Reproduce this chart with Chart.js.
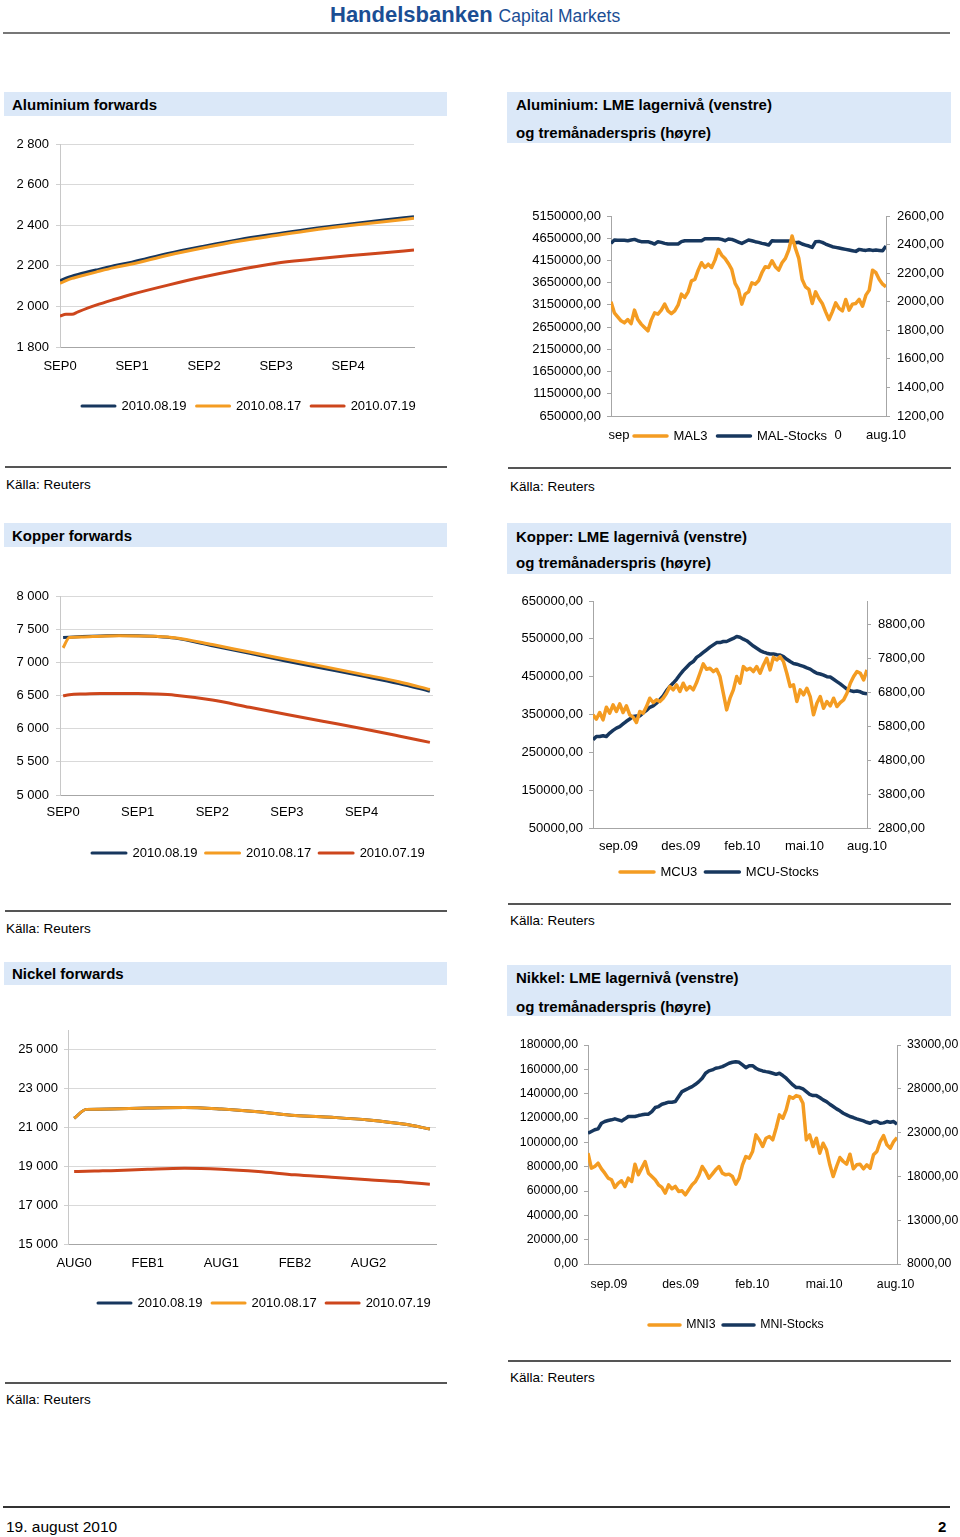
<!DOCTYPE html>
<html>
<head>
<meta charset="utf-8">
<script src="https://cdn.jsdelivr.net/npm/chart.js@4.4.1/dist/chart.umd.min.js"></script>
<style>
  body { margin: 0; background: #fff; font-family: "Liberation Sans", Arial, sans-serif; color: #000; }
  #page { position: relative; width: 960px; height: 1537px; overflow: hidden; }
  .abs { position: absolute; white-space: nowrap; }
  .bar { position: absolute; background: #dbe8f8; }
  .ttl { position: absolute; white-space: nowrap; font-weight: bold; font-size: 15px; line-height: 18px; }
  .rule { position: absolute; height: 2px; background: #555; }
  .src { position: absolute; white-space: nowrap; font-size: 13.5px; line-height: 16px; }
  canvas { position: absolute; }
</style>
</head>
<body>
<div id="page">
  <div class="abs" style="left:330px;top:2px;line-height:26px;color:#1b4e94">
    <span style="font-weight:bold;font-size:22px">Handelsbanken</span><span style="font-size:17.5px;margin-left:6px">Capital Markets</span>
  </div>
  <div class="rule" style="left:3px;top:32px;width:947px;background:#777"></div>

  <!-- row 1 -->
  <div class="bar" style="left:4px;top:92px;width:443px;height:24px"></div>
  <div class="ttl" style="left:12px;top:96px">Aluminium forwards</div>
  <div class="bar" style="left:507px;top:92px;width:444px;height:51px"></div>
  <div class="ttl" style="left:516px;top:96px">Aluminium: LME lagernivå (venstre)</div>
  <div class="ttl" style="left:516px;top:124px">og tremånaderspris (høyre)</div>
  <div class="rule" style="left:5px;top:466px;width:442px"></div>
  <div class="src" style="left:6px;top:477px">Källa: Reuters</div>
  <div class="rule" style="left:508px;top:467px;width:443px"></div>
  <div class="src" style="left:510px;top:479px">Källa: Reuters</div>

  <!-- row 2 -->
  <div class="bar" style="left:4px;top:523px;width:443px;height:24px"></div>
  <div class="ttl" style="left:12px;top:527px">Kopper forwards</div>
  <div class="bar" style="left:507px;top:523px;width:444px;height:51px"></div>
  <div class="ttl" style="left:516px;top:528px">Kopper: LME lagernivå (venstre)</div>
  <div class="ttl" style="left:516px;top:554px">og tremånaderspris (høyre)</div>
  <div class="rule" style="left:5px;top:910px;width:442px"></div>
  <div class="src" style="left:6px;top:921px">Källa: Reuters</div>
  <div class="rule" style="left:508px;top:903px;width:443px"></div>
  <div class="src" style="left:510px;top:913px">Källa: Reuters</div>

  <!-- row 3 -->
  <div class="bar" style="left:4px;top:962px;width:443px;height:23px"></div>
  <div class="ttl" style="left:12px;top:965px">Nickel forwards</div>
  <div class="bar" style="left:507px;top:965px;width:444px;height:51px"></div>
  <div class="ttl" style="left:516px;top:969px">Nikkel: LME lagernivå (venstre)</div>
  <div class="ttl" style="left:516px;top:998px">og tremånaderspris (høyre)</div>
  <div class="rule" style="left:5px;top:1382px;width:442px"></div>
  <div class="src" style="left:6px;top:1392px">Källa: Reuters</div>
  <div class="rule" style="left:508px;top:1360px;width:443px"></div>
  <div class="src" style="left:510px;top:1370px">Källa: Reuters</div>

  <!-- footer -->
  <div class="rule" style="left:3px;top:1506px;width:947px;background:#333"></div>
  <div class="abs" style="left:6px;top:1518px;font-size:15.5px;line-height:18px">19. august 2010</div>
  <div class="abs" style="left:938px;top:1518px;font-size:15px;line-height:18px;font-weight:bold">2</div>

  <canvas id="c1" width="450" height="300" style="left:0;top:120px"></canvas>
  <canvas id="c2" width="455" height="300" style="left:505px;top:195px"></canvas>
  <canvas id="c3" width="450" height="320" style="left:0;top:560px"></canvas>
  <canvas id="c4" width="455" height="320" style="left:505px;top:580px"></canvas>
  <canvas id="c5" width="450" height="320" style="left:0;top:1000px"></canvas>
  <canvas id="c6" width="455" height="320" style="left:505px;top:1020px"></canvas>
</div>

<script>
// ---- data ----
const fwdLabels = ['2010.08.19', '2010.08.17', '2010.07.19'];

// aluminium forwards (months from SEP0)
const alFwdMonths = [0, 1, 2, 3, 6, 9, 12, 18, 24, 30, 36, 42, 48, 54, 59];
const alFwd0819 = [2126, 2139, 2149, 2157, 2179, 2200, 2218, 2261, 2297, 2330, 2357, 2383, 2405, 2426, 2442];
const alFwd0817 = [2113, 2127, 2138, 2146, 2169, 2191, 2209, 2252, 2289, 2322, 2349, 2375, 2397, 2417, 2434];
const alFwd0719 = [1952, 1961, 1961, 1973, 2006, 2034, 2060, 2105, 2146, 2182, 2213, 2232, 2249, 2264, 2278];
const alFwdTickPos = [0, 12, 24, 36, 48];
const alFwdTickLabels = ['SEP0', 'SEP1', 'SEP2', 'SEP3', 'SEP4'];
const alFwdYTicks = [1800, 2000, 2200, 2400, 2600, 2800];

// copper forwards
const cuFwdMonths = [0, 1, 3, 6, 9, 12, 15, 18, 24, 30, 36, 42, 48, 54, 59];
const cuFwd0819 = [7373, 7378, 7388, 7398, 7403, 7400, 7390, 7365, 7250, 7135, 7017, 6906, 6796, 6681, 6565];
const cuFwd0817 = [7218, 7375, 7383, 7395, 7400, 7398, 7392, 7372, 7268, 7155, 7045, 6935, 6822, 6707, 6590];
const cuFwd0719 = [6495, 6510, 6522, 6530, 6532, 6530, 6522, 6505, 6432, 6322, 6214, 6108, 6003, 5890, 5793];
const cuFwdTickPos = [0, 12, 24, 36, 48];
const cuFwdTickLabels = ['SEP0', 'SEP1', 'SEP2', 'SEP3', 'SEP4'];
const cuFwdYTicks = [5000, 5500, 6000, 6500, 7000, 7500, 8000];

// nickel forwards (months from AUG0)
const niFwdMonths = [0, 1, 2, 3, 6, 9, 12, 15, 18, 21, 24, 27, 29];
const niFwd0819 = [21460, 21920, 21930, 21940, 21990, 22020, 21940, 21800, 21610, 21510, 21375, 21150, 20913];
const niFwd0817 = [21460, 21920, 21930, 21940, 21990, 22020, 21940, 21800, 21610, 21510, 21375, 21150, 20913];
const niFwd0719 = [18726, 18740, 18755, 18770, 18845, 18897, 18845, 18726, 18555, 18435, 18300, 18180, 18076];
const niFwdTickPos = [0, 6, 12, 18, 24];
const niFwdTickLabels = ['AUG0', 'FEB1', 'AUG1', 'FEB2', 'AUG2'];
const niFwdYTicks = [15000, 17000, 19000, 21000, 23000, 25000];

// aluminium: three-month price (right) and LME stocks (left)
const mal3 = [1999, 1922, 1894, 1866, 1852, 1875, 1847, 1941, 1875, 1843,
  1819, 1796, 1871, 1922, 1913, 1941, 1983, 1936, 1917, 1936,
  1976, 2053, 2030, 2069, 2146, 2156, 2221, 2273, 2240, 2263,
  2240, 2291, 2366, 2326, 2303, 2268, 2226, 2128, 2086, 1983,
  2053, 2069, 2132, 2123, 2146, 2203, 2245, 2240, 2287, 2245,
  2221, 2273, 2303, 2362, 2460, 2373, 2303, 2156, 2104, 2086,
  1988, 2069, 2023, 1988, 1929, 1875, 1929, 1992, 1953, 1936,
  2016, 1941, 1983, 1988, 2016, 1969, 2046, 2081, 2221, 2203,
  2156, 2123, 2104];
const malStocks = [4534000, 4609000, 4602000, 4602000, 4602000, 4594000, 4609000, 4624000, 4594000, 4572000,
  4572000, 4572000, 4549000, 4519000, 4572000, 4557000, 4534000, 4519000, 4519000, 4519000,
  4519000, 4572000, 4594000, 4594000, 4594000, 4594000, 4594000, 4594000, 4639000, 4639000,
  4639000, 4639000, 4639000, 4624000, 4594000, 4632000, 4624000, 4594000, 4564000, 4534000,
  4572000, 4609000, 4594000, 4572000, 4557000, 4534000, 4519000, 4496000, 4594000, 4587000,
  4587000, 4587000, 4587000, 4587000, 4572000, 4549000, 4557000, 4519000, 4496000, 4474000,
  4444000, 4572000, 4579000, 4557000, 4519000, 4489000, 4459000, 4444000, 4429000, 4414000,
  4399000, 4384000, 4369000, 4354000, 4399000, 4384000, 4376000, 4391000, 4376000, 4384000,
  4376000, 4369000, 4474000];
const alStockXTickPos = [2.4, 67.7, 82];
const alStockXTickLabels = ['sep', '0', 'aug.10'];
const alStockLeftTicks = [650000, 1150000, 1650000, 2150000, 2650000, 3150000, 3650000, 4150000, 4650000, 5150000];
const alStockRightTicks = [1200, 1400, 1600, 1800, 2000, 2200, 2400, 2600];

// copper
const mcu3 = [6140, 6012, 6209, 5993, 6366, 6189, 6435, 6238, 6464, 6209,
  6405, 6140, 6071, 5914, 6238, 6189, 6385, 6631, 6503, 6582,
  6533, 6631, 6778, 6975, 6877, 7024, 6828, 7073, 6877, 6975,
  6877, 7093, 7368, 7643, 7486, 7515, 7417, 7486, 7270, 6778,
  6287, 6631, 6877, 7270, 7073, 7564, 7466, 7515, 7417, 7564,
  7368, 7613, 7810, 7466, 7839, 7760, 7859, 7711, 7368, 6975,
  7024, 6533, 6877, 6730, 6926, 6680, 6140, 6484, 6680, 6336,
  6533, 6405, 6631, 6385, 6503, 6582, 6778, 7073, 7270, 7417,
  7368, 7171, 7466];
const mcuStocks = [283000, 292000, 292000, 294000, 292000, 301000, 308000, 314000, 318000, 325000,
  332000, 338000, 345000, 346000, 346000, 354000, 361000, 369000, 373000, 380000,
  389000, 399000, 413000, 424000, 433000, 443000, 455000, 466000, 475000, 484000,
  490000, 501000, 507000, 514000, 521000, 528000, 534000, 540000, 540000, 543000,
  543000, 547000, 551000, 556000, 554000, 549000, 545000, 538000, 531000, 525000,
  519000, 515000, 512000, 510000, 510000, 508000, 507000, 503000, 496000, 490000,
  485000, 483000, 480000, 477000, 473000, 470000, 464000, 459000, 457000, 454000,
  450000, 449000, 443000, 437000, 431000, 424000, 417000, 413000, 411000, 412000,
  410000, 406000, 405000];
const cuStockXTickPos = [7.6, 26.3, 44.7, 63.3, 82];
const cuStockXTickLabels = ['sep.09', 'des.09', 'feb.10', 'mai.10', 'aug.10'];
const cuStockLeftTicks = [50000, 150000, 250000, 350000, 450000, 550000, 650000];
const cuStockRightTicks = [2800, 3800, 4800, 5800, 6800, 7800, 8800];

// nickel
const mni3 = [20651, 18941, 19131, 19511, 18865, 18371, 17801, 17612, 16738, 17232,
  17498, 16852, 17801, 17422, 19397, 18181, 18941, 19701, 18371, 17991,
  17612, 17042, 16738, 16092, 17042, 16586, 16852, 16282, 16358, 15902,
  16472, 17042, 17422, 18105, 19131, 18561, 17801, 18257, 18751, 19131,
  18371, 18181, 18257, 17991, 17118, 17801, 19321, 20271, 20081, 20841,
  22740, 22170, 21410, 22360, 22550, 22170, 23500, 25020, 24640, 25590,
  27109, 26919, 27223, 27109, 26349, 22170, 22740, 21410, 22360, 20651,
  21790, 21030, 19321, 17991, 19131, 20157, 19701, 19397, 20537, 18865,
  19321, 19397, 18865, 19321, 18941, 20461, 20841, 21980, 22664, 21600,
  21220, 21980, 22436];
const mniStocks = [107500, 108900, 110300, 111100, 115700, 117100, 117900, 118500, 119300, 118500,
  117600, 119300, 121200, 121200, 121200, 122000, 122600, 123100, 123100, 125300,
  128600, 129400, 131300, 132100, 133000, 133000, 133500, 137600, 141700, 143100,
  144500, 145800, 147700, 149900, 152700, 156800, 158700, 159500, 160900, 161400,
  162200, 163600, 165000, 165800, 166300, 165800, 163600, 161400, 163000, 163000,
  160900, 159500, 158700, 158100, 157600, 156800, 155900, 156800, 154900, 152700,
  149900, 147200, 145000, 145000, 143900, 141700, 139500, 138400, 138400, 136800,
  134900, 133500, 131300, 129400, 127500, 125900, 123900, 122600, 121200, 120400,
  119300, 118500, 117600, 116500, 115700, 117100, 117100, 115700, 116000, 117100,
  116500, 117100, 114900];
const niStockXTickPos = [6.25, 27.6, 48.9, 70.3, 91.6];
const niStockXTickLabels = ['sep.09', 'des.09', 'feb.10', 'mai.10', 'aug.10'];
const niStockLeftTicks = [0, 20000, 40000, 60000, 80000, 100000, 120000, 140000, 160000, 180000];
const niStockRightTicks = [8000, 13000, 18000, 23000, 28000, 33000];

// ---- drawing ----
Chart.defaults.font.family = '"Liberation Sans", Arial, sans-serif';
Chart.defaults.font.size = 13;
Chart.defaults.color = '#000';

const NAVY = '#17375e';
const ORANGE = '#f49c22';
const RED = '#cd461c';

const spaced = v => String(v).replace(/\B(?=(\d{3})+(?!\d))/g, ' ');
const decimal = v => v.toFixed(2).replace('.', ',');
const pts = (xs, ys) => ys.map((v, i) => ({ x: xs[i], y: v }));
const seq = ys => ys.map((v, i) => ({ x: i, y: v }));

// moves the legend row so that its first line starts at x and text is centred on y
const placeLegend = {
  id: 'placeLegend',
  afterUpdate(chart, args, opts) {
    const lg = chart.legend;
    if (!lg) return;
    const pad = lg.options.labels.padding;
    lg.left = opts.x - pad;
    lg.right = lg.left + 600;
    lg.top = opts.y - pad - opts.fs / 2;
    lg.bottom = lg.top + 50;
  }
};

function xAxis(g, min, max, pos, labels, pad) {
  return {
    type: 'linear', min, max,
    grid: { display: false, drawTicks: false },
    border: { display: true, color: '#a6a6a6' },
    ticks: { autoSkip: false, maxRotation: 0, padding: pad, font: { size: g.fs },
      callback: (v, i) => labels[i] },
    afterBuildTicks: s => { s.ticks = pos.map(v => ({ value: v })); },
    afterFit: s => { s.height = g.y + g.h - g.B - (g.fs + g.legPad + 10); }
  };
}

function yAxis(g, side, width, min, max, vals, fmt, pad, gridOn) {
  return {
    type: 'linear', position: side, min, max,
    grid: { drawOnChartArea: gridOn, drawTicks: true, tickLength: 4,
      color: '#d9d9d9', tickColor: gridOn ? '#d0d0d0' : '#a6a6a6' },
    border: { display: true, color: gridOn ? '#c8c8c8' : '#a6a6a6' },
    ticks: { padding: pad, font: { size: g.fs }, callback: v => fmt(v) },
    afterBuildTicks: s => { s.ticks = vals.map(v => ({ value: v })); },
    afterFit: s => { s.width = width; }
  };
}

function makeChart(id, g, datasets, scales, leg) {
  return new Chart(document.getElementById(id), {
    type: 'line',
    data: { datasets },
    options: {
      responsive: false,
      animation: false,
      events: [],
      layout: { padding: { left: 0, top: g.T - g.y, right: g.dual ? 0 : g.x + g.w - g.R, bottom: 0 } },
      scales,
      plugins: {
        legend: {
          position: 'bottom', align: 'start',
          labels: { boxWidth: leg.box, boxHeight: 0, padding: g.legPad, font: { size: g.fs },
            sort: (a, b) => a.datasetIndex - b.datasetIndex }
        },
        tooltip: { enabled: false },
        placeLegend: { x: leg.x - g.x, y: leg.y - g.y, fs: g.fs }
      }
    },
    plugins: [placeLegend]
  });
}

function fwdSets(xs, a, b, c) {
  const base = { borderWidth: 3, pointRadius: 0, cubicInterpolationMode: 'monotone', borderJoinStyle: 'round' };
  return [
    { ...base, label: fwdLabels[0], data: pts(xs, a), borderColor: NAVY, backgroundColor: NAVY, order: 3 },
    { ...base, label: fwdLabels[1], data: pts(xs, b), borderColor: ORANGE, backgroundColor: ORANGE, order: 2 },
    { ...base, label: fwdLabels[2], data: pts(xs, c), borderColor: RED, backgroundColor: RED, order: 1 }
  ];
}

function stockSets(names, price, stocks) {
  const base = { borderWidth: 3.5, pointRadius: 0, tension: 0, borderJoinStyle: 'round' };
  return [
    { ...base, label: names[0], data: seq(price), yAxisID: 'y2', borderColor: ORANGE, backgroundColor: ORANGE },
    { ...base, label: names[1], data: seq(stocks), yAxisID: 'y', borderColor: NAVY, backgroundColor: NAVY }
  ];
}

// chart 1: aluminium forwards
const g1 = { x: 0, y: 120, w: 450, h: 300, T: 144, R: 414, B: 347, fs: 13, legPad: 10 };
makeChart('c1', g1, fwdSets(alFwdMonths, alFwd0819, alFwd0817, alFwd0719), {
  x: xAxis(g1, 0, 59, alFwdTickPos, alFwdTickLabels, 12),
  y: yAxis(g1, 'left', 60, 1800, 2800, alFwdYTicks, spaced, 7, true)
}, { x: 82, y: 406, box: 33 });

// chart 2: aluminium stocks / price
const g2 = { x: 505, y: 195, w: 455, h: 300, T: 216, R: 886, B: 416, fs: 13, legPad: 10, dual: true };
makeChart('c2', g2, stockSets(['MAL3', 'MAL-Stocks'], mal3, malStocks), {
  x: xAxis(g2, 0, mal3.length - 1, alStockXTickPos, alStockXTickLabels, 12),
  y: yAxis(g2, 'left', 106, 650000, 5150000, alStockLeftTicks, decimal, 6, false),
  y2: yAxis(g2, 'right', 74, 1200, 2600, alStockRightTicks, decimal, 7, false)
}, { x: 634, y: 436, box: 33 });

// chart 3: copper forwards
const g3 = { x: 0, y: 560, w: 450, h: 320, T: 596, R: 433, B: 795, fs: 13, legPad: 8 };
makeChart('c3', g3, fwdSets(cuFwdMonths, cuFwd0819, cuFwd0817, cuFwd0719), {
  x: xAxis(g3, -0.5, 59.5, cuFwdTickPos, cuFwdTickLabels, 9.5),
  y: yAxis(g3, 'left', 60, 5000, 8000, cuFwdYTicks, spaced, 7, true)
}, { x: 92, y: 853, box: 34 });

// chart 4: copper stocks / price
const g4 = { x: 505, y: 580, w: 455, h: 320, T: 601, R: 867, B: 828, fs: 13, legPad: 8, dual: true };
makeChart('c4', g4, stockSets(['MCU3', 'MCU-Stocks'], mcu3, mcuStocks), {
  x: xAxis(g4, 0, mcu3.length - 1, cuStockXTickPos, cuStockXTickLabels, 11),
  y: yAxis(g4, 'left', 88, 50000, 650000, cuStockLeftTicks, decimal, 6, false),
  y2: yAxis(g4, 'right', 93, 2800, 9500, cuStockRightTicks, decimal, 7, false)
}, { x: 620, y: 872, box: 34 });

// chart 5: nickel forwards
const g5 = { x: 0, y: 1000, w: 450, h: 320, T: 1030, R: 436, B: 1244, fs: 13, legPad: 9.5 };
makeChart('c5', g5, fwdSets(niFwdMonths, niFwd0819, niFwd0817, niFwd0719), {
  x: xAxis(g5, -0.5, 29.5, niFwdTickPos, niFwdTickLabels, 12),
  y: yAxis(g5, 'left', 68, 15000, 26000, niFwdYTicks, spaced, 6, true)
}, { x: 98, y: 1303, box: 33 });

// chart 6: nickel stocks / price
const g6 = { x: 505, y: 1020, w: 455, h: 320, T: 1045, R: 897, B: 1264, fs: 12.3, legPad: 7.5, dual: true };
makeChart('c6', g6, stockSets(['MNI3', 'MNI-Stocks'], mni3, mniStocks), {
  x: xAxis(g6, 0, mni3.length - 1, niStockXTickPos, niStockXTickLabels, 13),
  y: yAxis(g6, 'left', 83, 0, 180000, niStockLeftTicks, decimal, 6, false),
  y2: yAxis(g6, 'right', 63, 8000, 33000, niStockRightTicks, decimal, 6, false)
}, { x: 649, y: 1325, box: 31 });
</script>
</body>
</html>
